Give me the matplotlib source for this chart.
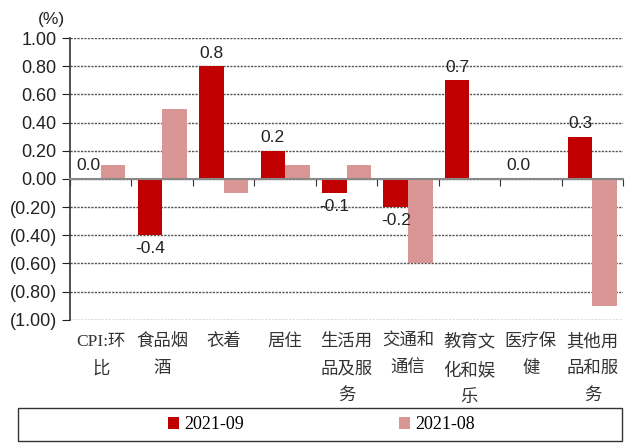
import numpy as np
import matplotlib.pyplot as plt
from matplotlib.patches import Rectangle
from matplotlib.ticker import FuncFormatter

plt.rcParams['font.family'] = ['Liberation Sans', 'Noto Sans CJK SC']

categories = ['CPI:环\n比', '食品烟\n酒', '衣着', '居住', '生活用\n品及服\n务',
              '交通和\n通信', '教育文\n化和娱\n乐', '医疗保\n健', '其他用\n品和服\n务']
sep_2021 = [0.0, -0.4, 0.8, 0.2, -0.1, -0.2, 0.7, 0.0, 0.3]
aug_2021 = [0.1, 0.5, -0.1, 0.1, 0.1, -0.6, 0.0, 0.0, -0.9]
yticks = [1.0, 0.8, 0.6, 0.4, 0.2, 0.0, -0.2, -0.4, -0.6, -0.8, -1.0]

dark = '#C00000'
pink = '#D99694'

fig = plt.figure(figsize=(6.25, 4.43), dpi=100)
ax = fig.add_axes([0.112, 0.278, 0.885, 0.636])

x = np.arange(len(categories))
w = 0.4
b1 = ax.bar(x - w / 2, sep_2021, w, color=dark, label='2021-09', zorder=3)
b2 = ax.bar(x + w / 2, aug_2021, w, color=pink, label='2021-08', zorder=3)

# value labels for 2021-09 only
for xi, v in zip(x - w / 2, sep_2021):
    off = 4 if v >= 0 else -4
    ax.annotate(f'{v:.1f}', (xi, v), xytext=(0, off), textcoords='offset points',
                ha='center', va='bottom' if v >= 0 else 'top',
                fontsize=12.5, color='#222222')

ax.set_xlim(-0.5, len(categories) - 0.5)
ax.set_ylim(-1.0, 1.0)
ax.set_yticks(yticks)
ax.yaxis.set_major_formatter(FuncFormatter(
    lambda v, p: f'({abs(v):.2f})' if v < -1e-9 else f'{abs(v):.2f}'))
ax.tick_params(axis='y', labelsize=13, length=6, colors='#222222')
ax.yaxis.grid(True, linestyle=(0, (1.6, 0.9)), color='#555555', linewidth=1.0, zorder=0)

ax.spines['top'].set_visible(False)
ax.spines['right'].set_visible(False)
ax.spines['left'].set_color('#333333')
ax.spines['left'].set_linewidth(1.2)
ax.spines['bottom'].set_position(('data', 0))
ax.spines['bottom'].set_color('#888888')
ax.spines['bottom'].set_linewidth(1.5)
ax.spines['bottom'].set_zorder(4)

ax.set_xticks(np.arange(len(categories) + 1) - 0.5)
ax.set_xticklabels([])
ax.tick_params(axis='x', length=5, color='#333333', direction='out')

for xi, lab in zip(x, categories):
    ax.text(xi, -0.05, lab, transform=ax.get_xaxis_transform(), ha='center', va='top',
            fontsize=12.5, linespacing=1.9, color='#333333',
            family=['Liberation Serif', 'Noto Sans CJK SC'])

fig.text(0.06, 0.955, '(%)', fontsize=12.5, ha='left', va='center', color='#222222')

# legend box along the bottom
fig.patches.append(Rectangle((0.029, 0.004), 0.966, 0.074, transform=fig.transFigure,
                             fill=False, edgecolor='#333333', linewidth=1.0))
fig.legend(handles=[b1, b2], labels=['2021-09', '2021-08'], loc='center',
           bbox_to_anchor=(0.514, 0.041), ncol=2, frameon=False, columnspacing=8.6,
           handlelength=0.6, handleheight=0.6, handletextpad=0.3,
           prop={'family': 'Liberation Serif', 'size': 13})

fig.savefig('out.png', dpi=100)
